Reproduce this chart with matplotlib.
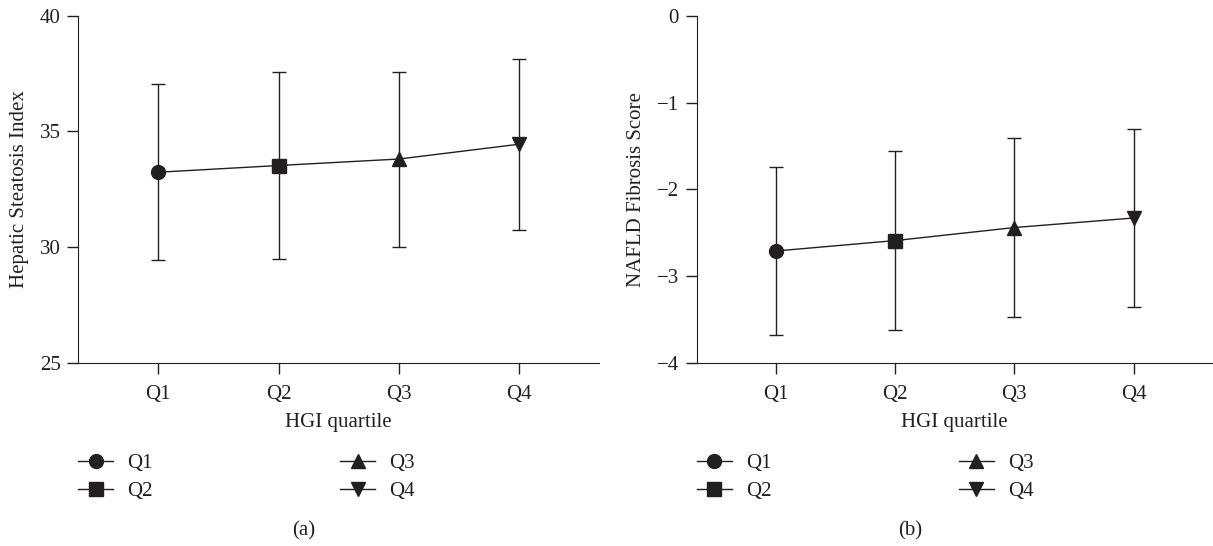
import matplotlib
matplotlib.use("Agg")
import matplotlib.pyplot as plt
from matplotlib.lines import Line2D

# values (mean and SD per HGI quartile)
quartiles = ["Q1", "Q2", "Q3", "Q4"]
hsi_mean = [33.24, 33.53, 33.81, 34.45]
hsi_sd = [3.80, 4.02, 3.78, 3.70]
nfs_mean = [-2.71, -2.59, -2.44, -2.33]
nfs_sd = [0.97, 1.03, 1.03, 1.02]
markers = ["o", "s", "^", "v"]

INK = "#231f20"
FS = 15

plt.rcParams["font.family"] = ["Liberation Serif", "DejaVu Serif"]
plt.rcParams["text.color"] = INK
plt.rcParams["axes.edgecolor"] = INK
plt.rcParams["xtick.color"] = INK
plt.rcParams["ytick.color"] = INK
plt.rcParams["axes.labelcolor"] = INK


def draw_panel(ax, means, sds, ylabel, ylim, yticks, tag, tag_x):
    x = list(range(len(quartiles)))
    ax.errorbar(x, means, yerr=sds, fmt="none", ecolor=INK, elinewidth=1.0,
                capsize=5, capthick=1.0, zorder=2)
    ax.plot(x, means, color=INK, lw=1.0, zorder=3)
    for xi, m, mk in zip(x, means, markers):
        ax.plot(xi, m, marker=mk, color=INK, markersize=10, ls="none", zorder=4)

    ax.set_xlim(-0.665, 3.665)
    ax.set_ylim(*ylim)
    ax.set_yticks(yticks)
    ax.set_xticks(x)
    ax.set_xticklabels(quartiles)
    ax.spines["top"].set_visible(False)
    ax.spines["right"].set_visible(False)
    ax.tick_params(direction="out", length=7.7, width=1.0, labelsize=FS, pad=5)
    ax.tick_params(axis="x", pad=8.5)
    ax.set_xlabel("HGI quartile", fontsize=FS, labelpad=6)
    ax.set_ylabel(ylabel, fontsize=FS, labelpad=8)

    handles = [Line2D([0], [0], color=INK, lw=1.0, marker=mk, markersize=10)
               for mk in markers]
    ax.legend(handles, quartiles, ncol=2, loc="upper left",
              bbox_to_anchor=(0, -0.26), frameon=False, fontsize=FS,
              borderpad=0, borderaxespad=0, handlelength=1.68,
              handletextpad=0.67, columnspacing=9.0, labelspacing=0.42)

    ax.figure.text(tag_x, 0.027, tag, ha="center", va="center", fontsize=FS)


fig = plt.figure(figsize=(12.13, 5.46), dpi=100)
ax1 = fig.add_axes([0.0646, 0.3352, 0.4293, 0.636])
ax2 = fig.add_axes([0.5744, 0.3352, 0.4254, 0.636])

draw_panel(ax1, hsi_mean, hsi_sd, "Hepatic Steatosis Index", (25, 40),
           [25, 30, 35, 40], "(a)", 0.25)
draw_panel(ax2, nfs_mean, nfs_sd, "NAFLD Fibrosis Score", (-4, 0),
           [-4, -3, -2, -1, 0], "(b)", 0.75)

fig.savefig("out.png", dpi=100)
